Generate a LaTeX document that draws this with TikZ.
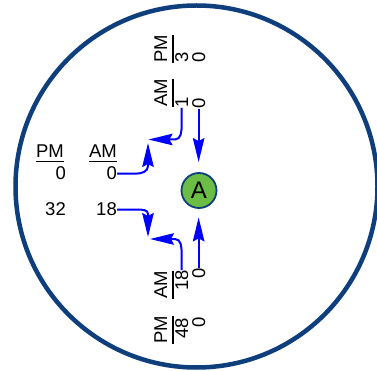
\documentclass[tikz,border=0pt]{standalone}
\usepackage{fontspec}
\setmainfont{Liberation Sans}
\usetikzlibrary{arrows.meta}
\definecolor{navy}{RGB}{14,62,124}
\definecolor{agreen}{RGB}{108,189,69}
\definecolor{arrblue}{RGB}{0,0,255}
\begin{document}
\begin{tikzpicture}[x=1pt,y=-1pt,
  lbl/.style={inner sep=0pt, font=\fontsize{18.5}{20}\selectfont},
  rl/.style={lbl, rotate=90},
  rule/.style={line width=1.3pt, black},
  arr/.style={arrblue, line width=2pt, -{Stealth[length=24pt,width=11.5pt,inset=3pt]}}]
\useasboundingbox (0,0) rectangle (377,371);
\clip (0,0) rectangle (377,371);
\draw[navy, line width=4.5pt] (196.5,186.5) circle[radius=181pt];

\node[circle, draw=navy, line width=1.8pt, fill=agreen, minimum size=35pt, inner sep=0pt,
      font=\fontsize{24}{24}\selectfont] (A) at (199,190.5) {A};

% left group
\node[lbl, anchor=base east] (pmL) at (64,158) {PM};
\node[lbl, anchor=base east] (pm0) at (66,180) {0};
\node[lbl, anchor=base east] (pm32) at (66,216) {32};
\node[lbl, anchor=base east] (amL) at (117,158) {AM};
\node[lbl, anchor=base east] (am0) at (117,180) {0};
\node[lbl, anchor=base east] (am18) at (117,216) {18};
\draw[rule] ([yshift=-3.5pt]pmL.base west) -- ([yshift=-3.5pt]pmL.base east);
\draw[rule] ([yshift=-3.5pt]amL.base west) -- ([yshift=-3.5pt]amL.base east);

% top group
\node[rl, anchor=base west] (pmT) at (167,63) {PM};
\node[rl, anchor=base west] (pmT3) at (188,63) {3};
\node[rl, anchor=base west] (pmT0) at (205,63) {0};
\node[rl, anchor=base west] (amT) at (167,107) {AM};
\node[rl, anchor=base west] (amT1) at (188,108) {1};
\node[rl, anchor=base west] (amT0) at (205,109) {0};
\draw[rule] ([xshift=6pt]pmT.base west) -- ([xshift=6pt]pmT.base east);
\draw[rule] ([xshift=6pt]amT.base west) -- ([xshift=6pt]amT.base east);

% bottom group
\node[rl, anchor=base west] (amB) at (167,299) {AM};
\node[rl, anchor=base east] (amB18) at (188,270) {18};
\node[rl, anchor=base east] (amB0) at (205,268) {0};
\node[rl, anchor=base west] (pmB) at (167,344) {PM};
\node[rl, anchor=base east] (pmB48) at (188,318) {48};
\node[rl, anchor=base east] (pmB0) at (205,317) {0};
\draw[rule] ([xshift=6pt]amB.base west) -- ([xshift=6pt]amB.base east);
\draw[rule] ([xshift=6pt]pmB.base west) -- ([xshift=6pt]pmB.base east);

% arrow tips (free ends)
\coordinate (m1) at (148.5,139.5);
\coordinate (m2) at (148,143);
\coordinate (m3) at (148,237);
\coordinate (m4) at (150,239);

\draw[arr] (amT1.west) -- ++(0,17) to[out=-90,in=0] (175,139.5) -- (m1);
\draw[arr] (am0.east) -- ++(19,0) to[out=0,in=-90] (148,166) -- (m2);
\draw[arr] (am18.east) -- ++(21,0) to[out=0,in=90] (148,214) -- (m3);
\draw[arr] (amB18.east) -- ++(0,-17) to[out=90,in=0] (175,239) -- (m4);
\draw[arr, shorten >=10pt] (amT0.west) -- (amT0.west |- A.north);
\draw[arr, shorten >=8.5pt] (amB0.east) -- (amB0.east |- A.south);
\end{tikzpicture}
\end{document}
